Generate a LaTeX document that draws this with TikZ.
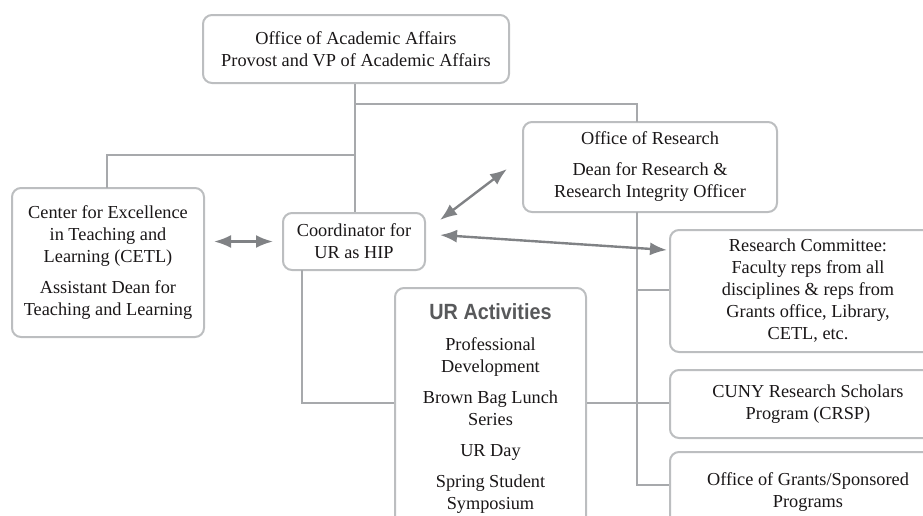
\documentclass[tikz,border=0pt]{standalone}
\usepackage{fontspec}
\setmainfont{Liberation Serif}
\setsansfont{Liberation Sans}
\usetikzlibrary{arrows.meta}
\definecolor{txt}{HTML}{1A1718}
\definecolor{boxc}{HTML}{BCBEC0}
\definecolor{linec}{HTML}{A7A9AC}
\definecolor{arrc}{HTML}{808285}
\definecolor{headc}{HTML}{58595B}
\begin{document}
\begin{tikzpicture}[x=1pt,y=-1pt,
  font=\fontsize{18.3}{22}\selectfont,
  box/.style={draw=boxc, line width=2pt, rounded corners=9pt, align=center,
    inner sep=0pt, text=txt, fill=white},
  conn/.style={draw=linec, line width=2.5pt},
  arr/.style={draw=arrc, line width=2.4pt,
    {Latex[length=17pt,width=13pt]}-{Latex[length=17pt,width=13pt]}}]
\clip (0,0) rectangle (923,515);
\useasboundingbox (0,0) rectangle (923,515);

% boxes
\node[box, minimum width=306pt, minimum height=68pt] (top) at (356,49)
  {Office of Academic Affairs\\Provost and VP of Academic Affairs};
\node[box, minimum width=254pt, minimum height=90pt] (res) at (650,167)
  {Office of Research\\[9pt]Dean for Research \&\\Research Integrity Officer};
\node[box, minimum width=192pt, minimum height=149pt] (cetl) at (108,262.5)
  {Center for Excellence\\in Teaching and\\Learning (CETL)\\[9pt]Assistant Dean for\\Teaching and Learning};
\node[box, minimum width=142pt, minimum height=57pt] (coord) at (354,241.5)
  {Coordinator for\\UR as HIP};
\node[box, minimum width=276pt, minimum height=122pt] (rc) at (808,291)
  {Research Committee:\\Faculty reps from all\\disciplines \& reps from\\Grants office, Library,\\CETL, etc.};
\node[box, minimum width=276pt, minimum height=68pt] (crsp) at (808,404)
  {CUNY Research Scholars\\Program (CRSP)};
\node[box, minimum width=276pt, minimum height=80pt] (grants) at (808,492)
  {Office of Grants/Sponsored\\Programs};
\node[box, minimum width=191pt, minimum height=240pt] (ur) at (490.5,408)
  {{\sffamily\bfseries\color{headc}\fontsize{22}{22}\selectfont\scalebox{0.9}[1]{UR Activities}}\\[9pt]
   Professional\\Development\\[9pt]Brown Bag Lunch\\Series\\[9pt]UR Day\\[9pt]Spring Student\\Symposium};

% coordinates
\coordinate (j1) at (355,104);
\coordinate (j2) at (355,155);
\coordinate (rtop) at (637,122);
\coordinate (rbot) at (637,212);
\coordinate (ctop) at (107,188);
\coordinate (cb) at (302,270);
\coordinate (jur) at (302,403);
\coordinate (v2) at (637,403);
\coordinate (v1) at (637,290);
\coordinate (v3) at (637,485);

% connectors
\draw[conn] (top.south -| j1) -- (coord.north -| j1);
\draw[conn] (j1) -| (rtop);
\draw[conn] (j2) -| (ctop);
\draw[conn] (rbot) -- (v3) -- (grants.west |- v3);
\draw[conn] (v1) -- (rc.west |- v1);
\draw[conn] (cb) -- (jur) -- (ur.west |- jur);
\draw[conn] (ur.east |- v2) -- (v2) -- (crsp.west |- v2);

% arrows
\coordinate (a2s) at (440,220);
\coordinate (a2e) at (507,169);
\coordinate (a3s) at (440,235);
\coordinate (a3e) at (667,250);
\draw[arr, shorten <=9pt, shorten >=9pt] (cetl.east |- coord.west) -- (coord.west);
\draw[arr] (a2s) -- (a2e);
\draw[arr] (a3s) -- (a3e);
\end{tikzpicture}
\end{document}
